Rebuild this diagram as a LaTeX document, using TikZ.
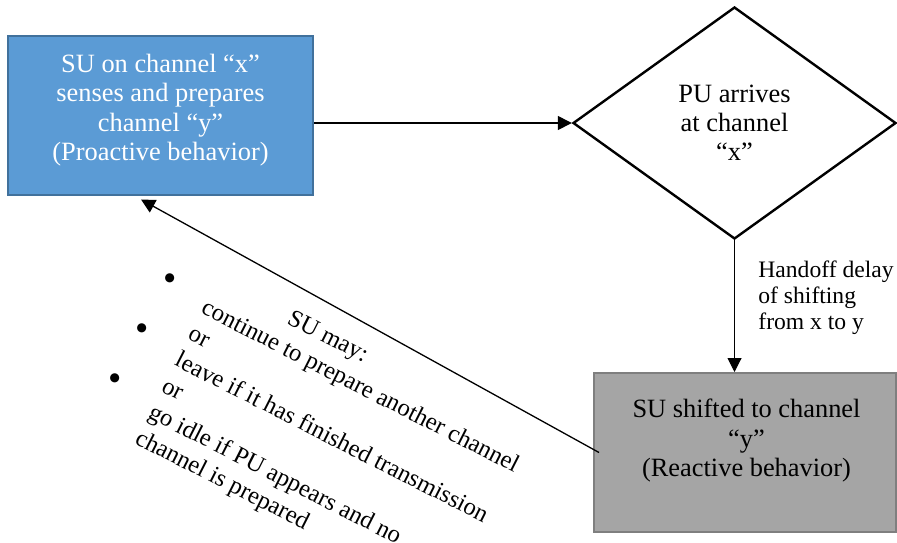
\documentclass[tikz,border=0pt]{standalone}
\usepackage{fontspec}
\setmainfont{Liberation Serif}
\usetikzlibrary{arrows.meta,shapes.geometric,calc}
\definecolor{boxblue}{HTML}{5B9BD5}
\definecolor{boxblueedge}{HTML}{41719C}
\definecolor{boxgray}{HTML}{A5A5A5}
\definecolor{boxgrayedge}{HTML}{7F7F7F}
\begin{document}
\begin{tikzpicture}[x=0.5pt,y=-0.5pt,
  flowtext/.style={font=\fontsize{13.2}{14.6}\selectfont, align=center, inner sep=0pt},
  bluebox/.style={draw=boxblueedge, fill=boxblue, line width=1pt,
    minimum width=152.5pt, minimum height=79.5pt, inner sep=0pt},
  graybox/.style={draw=boxgrayedge, fill=boxgray, line width=1pt,
    minimum width=151pt, minimum height=79.5pt, inner sep=0pt},
  decision/.style={diamond, draw, fill=white, line width=1.2pt,
    minimum width=161.5pt, minimum height=116pt, inner sep=0pt,
    font=\fontsize{13.2}{14.6}\selectfont, align=center},
  link/.style={-{Triangle[length=7pt,width=7pt]}, line width=0.65pt},
  notetext/.style={font=\fontsize{11.8}{13.1}\selectfont, align=left, inner sep=0pt},
  sidetext/.style={font=\fontsize{12.3}{14.75}\selectfont, rotate=-27, inner sep=0pt},
  bulletmark/.style={font=\fontsize{19}{19}\selectfont, rotate=-27, inner sep=0pt},
]
\useasboundingbox (0,0) rectangle (897,542);

% proactive state
\node[bluebox] (b1) at (160.5,115.5) {};
\node[flowtext, text=white] (b1t) at (160.5,110.2)
  {SU on channel “x”\\senses and prepares\\channel “y”\\(Proactive behavior)};

% primary user event
\node[decision] (d) at (734.5,123) {PU arrives\\at channel\\“x”};

% reactive state
\node[graybox] (b2) at (745,452.5) {};
\node[flowtext] (b2t) at (746.5,440.6)
  {SU shifted to channel\\“y”\\(Reactive behavior)};

% handoff annotation
\node[notetext, anchor=west] (delay) at (758,297.5)
  {Handoff delay\\of shifting\\from x to y};

% connectors
\draw[link] (b1.east |- d.west) -- (d.west);
\draw[link, line width=0.5pt] (d.south) -- (d.south |- b2.north);
\coordinate (back) at ($(b2.west)+(6,0)$);
\coordinate (backtip) at ($(b1.south west)+(134,3.5)$);
\draw[link] (back) -- (backtip);

% options of the secondary user, written along the return path
\node[sidetext, anchor=base] (may) at (324.8,342.8) {SU may:};
\node[bulletmark] (bul1) at (168,282) {•};
\node[bulletmark] (bul2) at (140,332) {•};
\node[bulletmark] (bul3) at (113,382) {•};
\node[sidetext, anchor=base west] (opt1a) at (199.8,312.8) {continue to prepare another channel};
\node[sidetext, anchor=base west] (opt1b) at (186.5,338.8) {or};
\node[sidetext, anchor=base west] (opt2a) at (173.2,364.8) {leave if it has finished transmission};
\node[sidetext, anchor=base west] (opt2b) at (160.0,390.9) {or};
\node[sidetext, anchor=base west] (opt3a) at (146.7,416.9) {go idle if PU appears and no};
\node[sidetext, anchor=base west] (opt3b) at (133.5,442.9) {channel is prepared};
\end{tikzpicture}
\end{document}
